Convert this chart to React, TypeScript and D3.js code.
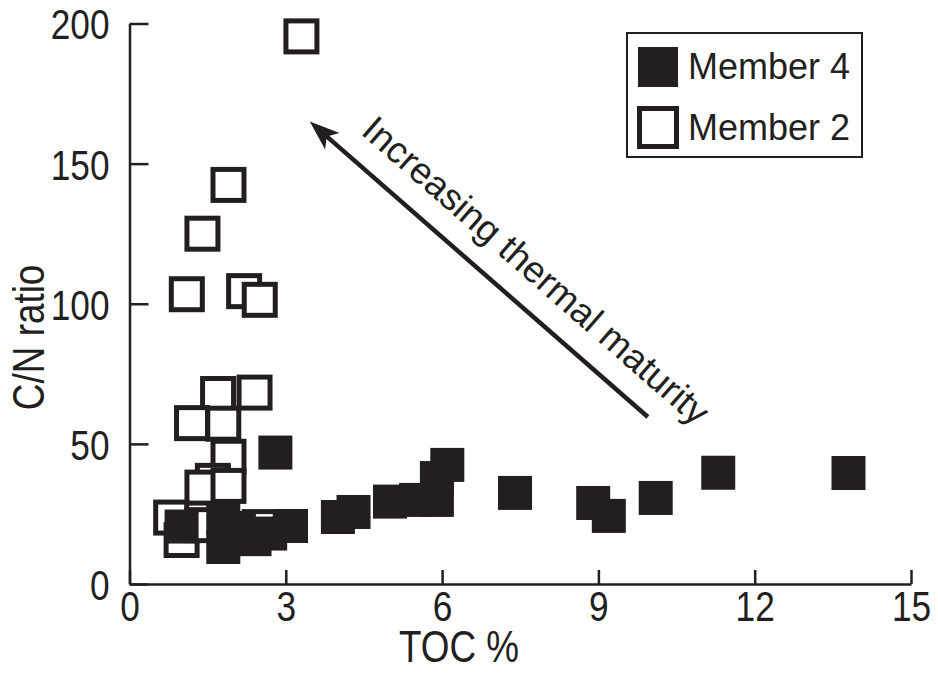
import { useEffect, useRef } from 'react'
import * as d3 from 'd3'

// Member 4 (filled squares): TOC %, C/N ratio
const member4Toc = [1.0, 1.8, 1.8, 2.1, 2.4, 2.7, 3.1, 2.8, 4.0, 4.3, 5.0, 5.5, 5.9, 5.9, 6.1, 7.4, 8.9, 9.2, 10.1, 11.3, 13.8]
const member4CN = [20.5, 23.5, 13.2, 20, 16, 18, 20.7, 46.9, 23.9, 25.7, 29.4, 30, 30, 37.8, 42.5, 32.5, 28.9, 24.3, 30.7, 39.7, 39.6]

// Member 2 (open squares)
const member2Toc = [3.3, 1.9, 1.4, 1.1, 2.2, 2.5, 1.7, 2.4, 1.2, 1.8, 1.9, 1.6, 1.4, 1.9, 0.8, 1.0, 1.4, 2.5]
const member2CN = [195.4, 142.4, 125, 103.4, 104.5, 101.4, 67.8, 68.3, 57.4, 57.2, 45.4, 36.8, 34.4, 35, 23.7, 15.7, 21, 20.3]

const xTicks = [0, 3, 6, 9, 12, 15]
const yTicks = [0, 50, 100, 150, 200]

// arrow annotation, in data units: [tail, head]
const arrowToc = [9.95, 3.46]
const arrowCN = [59.6, 165]
const arrowLabel = 'Increasing thermal maturity'

const legendItems = ['Member 4', 'Member 2']

export default function App() {
  const svgRef = useRef(null)

  useEffect(() => {
    if (!svgRef.current) return
    const svg = d3.select(svgRef.current)
    svg.selectAll('*').remove()

    const font = '"Liberation Sans", Arial, sans-serif'
    const ink = '#231f20'
    // axis text in the figure is a condensed face; squeeze Liberation Sans
    const squeeze = 0.82
    const tickSize = '43px'
    const titleSize = '45px'

    const x = d3.scaleLinear().domain([0, 15]).range([129.5, 911])
    const y = d3.scaleLinear().domain([0, 200]).range([584, 23.5])

    // axes, ticks pointing inward
    const xAxis = svg.append('g')
      .attr('transform', `translate(0, ${y(0)})`)
      .call(d3.axisBottom(x).tickValues(xTicks).tickSize(-14).tickSizeOuter(0).tickPadding(6))
    const yAxis = svg.append('g')
      .attr('transform', `translate(${x(0)}, 0)`)
      .call(d3.axisLeft(y).tickValues(yTicks).tickSize(-19).tickSizeOuter(0).tickPadding(18))

    ;[xAxis, yAxis].forEach(a => {
      a.select('.domain').attr('stroke', ink).attr('stroke-width', 2.5)
      a.selectAll('.tick line').attr('stroke', ink).attr('stroke-width', 2.5)
      a.selectAll('.tick text')
        .attr('fill', ink)
        .attr('transform', `scale(${squeeze}, 1)`)
        .style('font-family', font)
        .style('font-size', tickSize)
    })
    yAxis.selectAll('.tick text').attr('x', -20 / squeeze).attr('dy', '0.36em')

    // axis titles
    svg.append('text')
      .attr('transform', `translate(459, 662) scale(${squeeze}, 1)`)
      .attr('text-anchor', 'middle')
      .style('font-family', font)
      .style('font-size', titleSize)
      .attr('fill', ink)
      .text('TOC %')

    svg.append('text')
      .attr('transform', `translate(44, ${y(88)}) rotate(-90) scale(${squeeze}, 1)`)
      .attr('text-anchor', 'middle')
      .style('font-family', font)
      .style('font-size', titleSize)
      .attr('fill', ink)
      .text('C/N ratio')

    // open squares (Member 2), drawn first
    const openSize = 31
    svg.append('g').selectAll('rect')
      .data(d3.range(member2Toc.length))
      .join('rect')
      .attr('x', i => x(member2Toc[i]) - openSize / 2)
      .attr('y', i => y(member2CN[i]) - openSize / 2)
      .attr('width', openSize)
      .attr('height', openSize)
      .attr('fill', '#ffffff')
      .attr('stroke', ink)
      .attr('stroke-width', 5)

    // filled squares (Member 4)
    const fillSize = 34
    svg.append('g').selectAll('rect')
      .data(d3.range(member4Toc.length))
      .join('rect')
      .attr('x', i => x(member4Toc[i]) - fillSize / 2)
      .attr('y', i => y(member4CN[i]) - fillSize / 2)
      .attr('width', fillSize)
      .attr('height', fillSize)
      .attr('fill', ink)

    // arrow
    const x1 = x(arrowToc[0]), y1 = y(arrowCN[0])
    const x2 = x(arrowToc[1]), y2 = y(arrowCN[1])
    const ang = Math.atan2(y2 - y1, x2 - x1)
    const headLen = 30
    svg.append('line')
      .attr('x1', x1).attr('y1', y1)
      .attr('x2', x2 - Math.cos(ang) * headLen * 0.7)
      .attr('y2', y2 - Math.sin(ang) * headLen * 0.7)
      .attr('stroke', ink)
      .attr('stroke-width', 4.5)
    const deg = ang * 180 / Math.PI
    svg.append('path')
      .attr('d', `M0,0 L${-headLen},-11 L${-headLen * 0.75},0 L${-headLen},11 Z`)
      .attr('transform', `translate(${x2}, ${y2}) rotate(${deg})`)
      .attr('fill', ink)

    // arrow label, parallel to the arrow
    const textDeg = deg + 180
    const mx = (x1 + x2) / 2, my = (y1 + y2) / 2
    const rad = textDeg * Math.PI / 180
    const off = 24
    const tx = mx + Math.sin(rad) * off + Math.cos(rad) * 44
    const ty = my - Math.cos(rad) * off + Math.sin(rad) * 44
    svg.append('text')
      .attr('transform', `translate(${tx}, ${ty}) rotate(${textDeg})`)
      .attr('text-anchor', 'middle')
      .style('font-family', font)
      .style('font-size', '37px')
      .attr('fill', ink)
      .text(arrowLabel)

    // legend
    const lg = svg.append('g').attr('transform', 'translate(627, 33)')
    lg.append('rect')
      .attr('width', 235).attr('height', 124)
      .attr('fill', '#ffffff')
      .attr('stroke', ink)
      .attr('stroke-width', 2)
    lg.append('rect')
      .attr('x', 11).attr('y', 14)
      .attr('width', 40).attr('height', 40)
      .attr('fill', ink)
    lg.append('rect')
      .attr('x', 12.5).attr('y', 75.5)
      .attr('width', 37).attr('height', 38)
      .attr('fill', '#ffffff')
      .attr('stroke', ink)
      .attr('stroke-width', 5)
    lg.selectAll('text.lab')
      .data(legendItems)
      .join('text')
      .attr('class', 'lab')
      .attr('x', 61)
      .attr('y', (d, i) => 46 + i * 61)
      .style('font-family', font)
      .style('font-size', '36px')
      .attr('fill', ink)
      .text(d => d)
  }, [])

  return (
    <svg
      ref={svgRef}
      width={938}
      height={685}
      style={{ position: 'absolute', left: 0, top: 0, background: '#ffffff' }}
    />
  )
}
